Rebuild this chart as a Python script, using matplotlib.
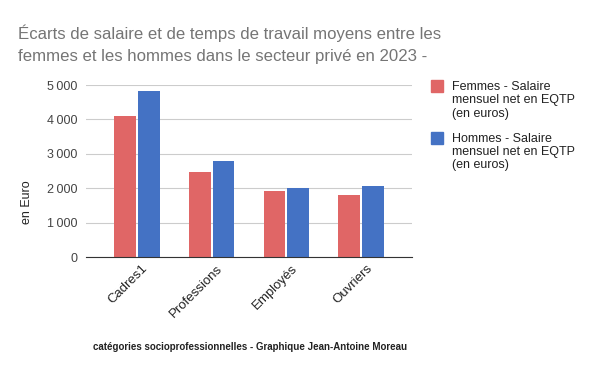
import matplotlib
matplotlib.use("Agg")
import matplotlib.pyplot as plt
import matplotlib.transforms as mtransforms
from matplotlib.patches import Rectangle
import numpy as np

categories = ["Cadres1", "Professions", "Employés", "Ouvriers"]
femmes = [4100, 2470, 1920, 1800]
hommes = [4830, 2790, 2000, 2060]
yticks = [0, 1000, 2000, 3000, 4000, 5000]
ytick_labels = ["0", "1\u202f000", "2\u202f000", "3\u202f000", "4\u202f000", "5\u202f000"]
series_names = ["Femmes - Salaire\nmensuel net en EQTP\n(en euros)",
                "Hommes - Salaire\nmensuel net en EQTP\n(en euros)"]
series_colors = ["#e06666", "#4472c4"]

plt.rcParams['font.family'] = ['Liberation Sans', 'DejaVu Sans']

W, H = 600, 371
fig = plt.figure(figsize=(6, 3.71), dpi=100)
ax = fig.add_axes([86/W, 1-257/H, 326/W, 172/H])

x = np.arange(len(categories))
w = 0.293
ax.bar(x - w/2 - 0.013, femmes, w, color=series_colors[0])
ax.bar(x + w/2 + 0.013, hommes, w, color=series_colors[1])

ax.set_xlim(-0.68, 3.68)
ax.set_ylim(0, 5000)
ax.set_yticks(yticks)
ax.set_yticklabels(ytick_labels, fontsize=9, color="#444444")
ax.yaxis.grid(True, color="#cccccc", linewidth=0.8)
ax.set_axisbelow(True)
ax.tick_params(axis="y", length=0, pad=6)
ax.tick_params(axis="x", length=0, pad=4)
for s in ["top", "right", "left"]:
    ax.spines[s].set_visible(False)
ax.spines["bottom"].set_color("#333333")
ax.set_xticks(x)
ax.set_xticklabels(categories, rotation=45, ha="right", rotation_mode="anchor", fontsize=9.5, color="#222222")
offset = mtransforms.ScaledTranslation(5/100, 0, fig.dpi_scale_trans)
for lab in ax.get_xticklabels():
    lab.set_transform(lab.get_transform() + offset)

fig.text(27.5/W, 1-202/H, "en Euro", rotation=90, fontsize=9, color="#222222", ha="center", va="center")

fig.text(18/W, 1-44/H, "Écarts de salaire et de temps de travail moyens entre les\nfemmes et les hommes dans le secteur privé en 2023 -",
         fontsize=12.1, color="#757575", va="center", ha="left", linespacing=1.6)

# legend drawn by hand: square aligned with first line of its label
leg_top = [80, 131.5]
for i in range(2):
    fig.patches.append(Rectangle((431/W, 1-(leg_top[i]+12)/H), 12/W, 12/H,
                                 transform=fig.transFigure, color=series_colors[i]))
    fig.text(452/W, 1-(leg_top[i]+1)/H, series_names[i], fontsize=9, color="#222222",
             ha="left", va="top", linespacing=1.15)

fig.text(250/W, 1-347/H, "catégories socioprofessionnelles - Graphique Jean-Antoine Moreau",
         fontsize=7, color="#222222", ha="center", va="center", fontweight="bold")

fig.savefig("out.png", dpi=100)
